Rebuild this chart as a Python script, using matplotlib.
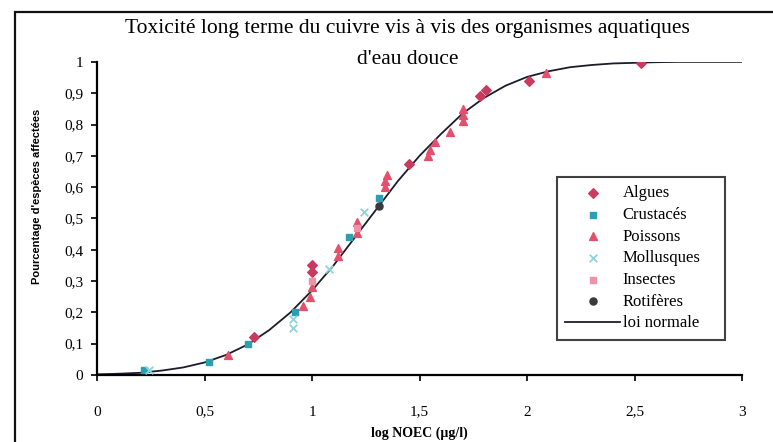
import matplotlib
matplotlib.use("Agg")
import matplotlib.pyplot as plt
from matplotlib.patches import Rectangle

# courbe "loi normale"
courbe_x = [0.0, 0.1, 0.2, 0.3, 0.4, 0.5, 0.6, 0.7, 0.8, 0.9, 1.0, 1.1, 1.2, 1.3, 1.4, 1.5,
            1.6, 1.7, 1.8, 1.9, 2.0, 2.1, 2.2, 2.3, 2.4, 2.5, 2.6, 2.7, 2.8, 2.9, 3.0]
courbe_y = [0.002, 0.004, 0.007, 0.014, 0.024, 0.040, 0.064, 0.097, 0.143, 0.200, 0.270,
            0.350, 0.440, 0.530, 0.620, 0.700, 0.770, 0.835, 0.885, 0.924, 0.952, 0.970,
            0.983, 0.990, 0.995, 0.997, 0.999, 1.0, 1.0, 1.0, 1.0]

algues_x = [0.73, 1.00, 1.00, 1.45, 1.78, 1.81, 2.01, 2.53]
algues_y = [0.12, 0.33, 0.35, 0.675, 0.89, 0.91, 0.94, 0.997]

crustaces_x = [0.22, 0.52, 0.70, 0.92, 1.17, 1.31]
crustaces_y = [0.015, 0.042, 0.10, 0.20, 0.44, 0.565]

poissons_x = [0.61, 0.96, 0.99, 1.00, 1.12, 1.12, 1.21, 1.21, 1.34, 1.34, 1.35, 1.54,
              1.55, 1.57, 1.64, 1.70, 1.70, 1.70, 2.09]
poissons_y = [0.064, 0.22, 0.25, 0.28, 0.38, 0.405, 0.455, 0.49, 0.60, 0.62, 0.64, 0.70,
              0.72, 0.745, 0.776, 0.81, 0.83, 0.85, 0.965]

mollusques_x = [0.24, 0.91, 0.91, 1.08, 1.24]
mollusques_y = [0.015, 0.15, 0.18, 0.34, 0.52]

insectes_x = [1.00, 1.21]
insectes_y = [0.30, 0.47]

rotiferes_x = [1.31]
rotiferes_y = [0.54]

xticks = [0, 0.5, 1, 1.5, 2, 2.5, 3]
xtick_labels = ["0", "0,5", "1", "1,5", "2", "2,5", "3"]
yticks = [0, 0.1, 0.2, 0.3, 0.4, 0.5, 0.6, 0.7, 0.8, 0.9, 1.0]
ytick_labels = ["0", "0,1", "0,2", "0,3", "0,4", "0,5", "0,6", "0,7", "0,8", "0,9", "1"]

serif = "Liberation Serif"

fig = plt.figure(figsize=(7.73, 4.42), dpi=100)
ax = fig.add_axes([0.1255, 0.1516, 0.8345, 0.7084])

ax.plot(courbe_x, courbe_y, color="#1c1c2c", lw=1.3, label="loi normale", zorder=2)
ax.scatter(algues_x, algues_y, marker="D", s=24, color="#c93a5e", label="Algues", zorder=3)
ax.scatter(crustaces_x, crustaces_y, marker="s", s=22, color="#2a9fb0", label="Crustacés", zorder=3)
ax.scatter(poissons_x, poissons_y, marker="^", s=32, color="#e4506c", label="Poissons", zorder=3)
ax.scatter(mollusques_x, mollusques_y, marker="x", s=30, color="#8fd3dc", lw=1.3,
           label="Mollusques", zorder=3)
ax.scatter(insectes_x, insectes_y, marker="s", s=22, color="#ec92ab", label="Insectes", zorder=3)
ax.scatter(rotiferes_x, rotiferes_y, marker="o", s=26, color="#3a3a3a", label="Rotifères", zorder=4)

ax.set_xlim(0, 3)
ax.set_ylim(0, 1)
ax.set_xticks(xticks)
ax.set_xticklabels(xtick_labels)
ax.set_yticks(yticks)
ax.set_yticklabels(ytick_labels)
for lab in ax.get_xticklabels() + ax.get_yticklabels():
    lab.set_fontfamily(serif)
    lab.set_fontsize(11)
ax.tick_params(axis="both", direction="out", length=4, width=1.3, color="#111111", pad=6)
ax.tick_params(axis="x", pad=18)
ax.spines["top"].set_visible(False)
ax.spines["right"].set_visible(False)
ax.spines["left"].set_linewidth(1.6)
ax.spines["bottom"].set_linewidth(1.6)

ax.set_xlabel("log NOEC (µg/l)", fontfamily=serif, fontsize=10, fontweight="bold", labelpad=6)
ax.set_ylabel("Pourcentage d'espèces affectées", fontfamily="Liberation Sans", fontsize=8,
              fontweight="bold", labelpad=14)
ax.yaxis.set_label_coords(-0.085, 0.57)

fig.text(0.527, 0.935, "Toxicité long terme du cuivre vis à vis des organismes aquatiques",
         ha="center", va="center", fontfamily=serif, fontsize=15.5)
fig.text(0.527, 0.866, "d'eau douce", ha="center", va="center", fontfamily=serif, fontsize=15.5)

handles, labels = ax.get_legend_handles_labels()
order = [1, 2, 3, 4, 5, 6, 0]
leg = ax.legend([handles[i] for i in order], [labels[i] for i in order],
                loc="upper left", bbox_to_anchor=(557 / 773, 1 - 343 / 442, 168 / 773, 166 / 442),
                bbox_transform=fig.transFigure, mode="expand", borderaxespad=0,
                prop={"family": serif, "size": 12}, frameon=True, fancybox=False,
                edgecolor="#111111", handlelength=3.3, handletextpad=0.15,
                borderpad=0.5, labelspacing=0.34)
leg.get_frame().set_linewidth(1.5)

fig.patches.append(Rectangle((15 / 773, -0.05), 1.0, 1.05 - 12 / 442,
                             transform=fig.transFigure, fill=False, lw=1.6,
                             edgecolor="#111111"))

fig.savefig("out.png", dpi=100)
